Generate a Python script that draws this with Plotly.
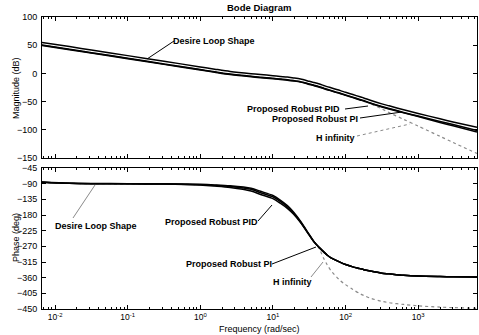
import plotly.graph_objects as go

# ---------------- data ----------------
freq = [0.0066, 0.0158, 0.0316, 0.1, 0.316, 1.0, 1.58, 2.57, 5.0, 6.76, 10, 12.6, 15.8, 19.3,
        24.0, 31.6, 36.3, 42.7, 50.1, 55.6, 63.1, 85.1, 100, 126, 158, 178, 219, 316, 398,
        631, 1000, 1995, 3020, 6457]

mag_desire = [55, 47.5, 41.5, 31.5, 21.5, 11.5, 7.5, 3.5, -0.5, -2, -4, -5.3, -6.5, -8, -10,
              -14, -16, -18.5, -21.5, -23.5, -25.5, -30.5, -33.5, -37.5, -41.5, -43.5, -47.5,
              -54, -57.5, -64.5, -71, -80.5, -86, -95.5]
mag_pid = [50.3, 42.8, 36.8, 26.8, 16.8, 6.8, 2.8, -1.2, -5.2, -6.7, -8.7, -10, -11.2, -12.7,
           -14.7, -18.7, -20.7, -23.2, -26.2, -28.2, -30.2, -35.2, -38.2, -42.2, -46.2, -48.2,
           -52.2, -58.7, -62.2, -69.2, -75.7, -85.2, -90.7, -101.2]
mag_pi = [49.5, 42, 36, 26, 16, 6, 2, -2, -6, -7.5, -9.5, -10.8, -12, -13.5, -15.5, -19.5,
          -21.5, -24, -27, -29, -31, -36, -39, -43, -47, -49, -53, -59.5, -63, -70, -76.5,
          -87, -93, -104]
mag_hinf = [50.3, 42.8, 36.8, 26.8, 16.8, 6.8, 2.8, -1.2, -5.2, -6.7, -8.7, -10, -11.2, -12.7,
            -14.7, -18.7, -20.7, -23.2, -26.2, -28.2, -30.2, -35.2, -38.2, -42.2, -46.2, -48.5,
            -53.5, -63, -69.5, -81.5, -93.5, -111.5, -122.5, -142]

ph_desire = [-86, -89, -90, -90.5, -91, -93, -95, -98, -106, -116, -128, -141, -157, -175,
             -200, -237, -255, -272, -286, -295, -303, -316, -322, -329, -334, -337, -341,
             -347, -349, -353, -355.5, -357, -357.5, -358]
ph_pid = [-86, -89, -90, -90.5, -91, -94, -97, -101, -111, -121, -133, -146, -161, -178,
          -202, -238, -256, -272, -286, -295, -303, -316, -322, -329, -334, -337, -341,
          -347, -349, -353, -355.5, -357, -357.5, -358]
ph_pi = [-85, -88.5, -89.5, -90, -90.5, -92, -93.5, -96, -103, -112, -124, -137, -153, -172,
         -198, -236, -255, -272, -286, -295, -303, -316, -322, -329, -334, -337, -341,
         -347, -349, -353, -355.5, -357, -357.5, -358]
ph_hinf = [-86, -89, -90, -90.5, -91, -93, -95, -98, -106, -116, -128, -141, -157, -175,
           -200, -237, -255, -274, -305, -322, -340, -369, -380, -394, -406, -411, -419,
           -428, -432, -437, -441, -444.5, -446, -448]

x_tickvals = [0.01, 0.1, 1, 10, 100, 1000]
x_ticktext = ["10<sup>-2</sup>", "10<sup>-1</sup>", "10<sup>0</sup>", "10<sup>1</sup>",
              "10<sup>2</sup>", "10<sup>3</sup>"]
mag_ticks = [100, 50, 0, -50, -100, -150]
ph_ticks = [-45, -90, -135, -180, -225, -270, -315, -360, -405, -450]

# ---------------- figure ----------------
FONT = "Liberation Sans, Arial, sans-serif"
W, H = 479, 335
ML, MR, MT, MB = 42, 2, 17, 26
PW, PH = W - ML - MR, H - MT - MB


def pxx(x):
    return (x - ML) / PW


def pxy(y):
    return 1 - (y - MT) / PH


black = dict(color="black", width=1.5)
gray = dict(color="#8a8a8a", width=1.2, dash="dot")

fig = go.Figure()
series = [("H infinity", mag_hinf, ph_hinf, gray),
          ("Proposed Robust PI", mag_pi, ph_pi, black),
          ("Proposed Robust PID", mag_pid, ph_pid, black),
          ("Desire Loop Shape", mag_desire, ph_desire, black)]
for name, m, p, ln in series:
    fig.add_trace(go.Scatter(x=freq, y=m, mode="lines", name=name, line=dict(**ln, shape="spline", smoothing=0.8),
                             xaxis="x", yaxis="y", showlegend=False, hoverinfo="skip"))
    fig.add_trace(go.Scatter(x=freq, y=p, mode="lines", name=name, line=dict(**ln, shape="spline", smoothing=0.8),
                             xaxis="x2", yaxis="y2", showlegend=False, hoverinfo="skip"))

minor_vals = [m * 10 ** e for e in range(-3, 4) for m in range(2, 10)]
xcommon = dict(type="log", range=[-2.18, 3.81], showline=True, linecolor="black", linewidth=1,
               mirror="allticks", ticks="inside", ticklen=4, tickcolor="black", tickwidth=1,
               tickmode="array", tickvals=x_tickvals, ticktext=x_ticktext,
               minor=dict(tickmode="array", tickvals=minor_vals, ticks="inside", ticklen=2,
                          tickcolor="black", showgrid=False),
               showgrid=False, zeroline=False, automargin=False, ticklabelstandoff=0,
               tickfont=dict(family=FONT, size=8.5, color="black"))
ycommon = dict(showline=True, linecolor="black", linewidth=1, mirror="allticks", ticks="inside",
               ticklen=4, tickcolor="black", showgrid=False, zeroline=False, automargin=False,
               tickfont=dict(family=FONT, size=9, color="black"), tickmode="array", ticklabelstandoff=2)

top_dom = [1 - (158 - MT) / PH, 1]
bot_dom = [0, 1 - (168 - MT) / PH]

fig.update_layout(
    width=W, height=H, autosize=False, margin=dict(l=ML, r=MR, t=MT, b=MB, autoexpand=False),
    paper_bgcolor="white", plot_bgcolor="white",
    xaxis=dict(**xcommon, anchor="y", domain=[0, 1], showticklabels=False),
    yaxis=dict(**ycommon, anchor="x", domain=top_dom, range=[-150, 100], tickvals=mag_ticks),
    xaxis2=dict(**xcommon, anchor="y2", domain=[0, 1], matches="x"),
    yaxis2=dict(**ycommon, anchor="x2", domain=bot_dom, range=[-450, -45], tickvals=ph_ticks),
    font=dict(family=FONT, color="black", size=9),
)

ann = []
shapes = []


def label(text, cx, cy, size=9, bold=True, angle=0):
    ann.append(dict(text=text, x=pxx(cx), y=pxy(cy), xref="paper", yref="paper", showarrow=False,
                    xanchor="center", yanchor="middle", textangle=angle,
                    font=dict(family=FONT, size=size, color="black",
                              weight="bold" if bold else "normal")))


def leader(x0, y0, x1, y1, color="black", dash="solid", width=1):
    shapes.append(dict(type="line", xref="paper", yref="paper", x0=pxx(x0), y0=pxy(y0),
                       x1=pxx(x1), y1=pxy(y1), line=dict(color=color, width=width, dash=dash)))


label("Bode Diagram", 259, 8, size=9.5)
label("Magnitude (dB)", 16, 88, size=9, bold=False, angle=-90)
label("Phase (deg)", 16, 238, size=9, bold=False, angle=-90)
label("Frequency (rad/sec)", 259, 329, size=9, bold=False)

# magnitude annotations
label("Desire Loop Shape", 214, 41)
leader(174, 41, 147, 59)
label("Proposed Robust PID", 293, 109)
leader(345, 109, 368, 106)
label("Proposed Robust PI", 315, 119)
leader(360, 118, 402, 112)
label("H infinity", 335, 138)
leader(357, 136, 410, 124, color="#8a8a8a", dash="dot")

# phase annotations
label("Desire Loop Shape", 96, 226)
leader(73, 218, 95, 185, color="#8a8a8a")
label("Proposed Robust PID", 211, 222)
leader(258, 221, 272, 205)
label("Proposed Robust PI", 229, 264)
leader(272, 264, 316, 247)
label("H infinity", 292, 282)
leader(311, 277, 323, 262, color="#8a8a8a")

fig.update_layout(annotations=ann, shapes=shapes)
fig.write_html("out.html", config={"displayModeBar": False, "staticPlot": True},
               post_script="document.body.style.margin='0';document.body.style.padding='0';")
